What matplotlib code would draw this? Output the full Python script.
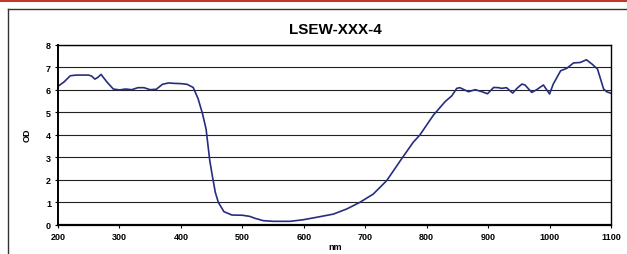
import matplotlib
matplotlib.use("Agg")
import matplotlib.pyplot as plt
from matplotlib.lines import Line2D

plt.rcParams['font.family'] = ['Liberation Sans', 'DejaVu Sans']

wavelength = [200, 210, 220, 230, 250, 255, 260, 265, 270, 280, 290, 300, 310, 320, 330, 340, 350, 360,
              370, 380, 390, 400, 410, 420, 428, 435, 441, 447, 451, 456, 461, 470, 483, 500, 512, 521, 534,
              550, 578, 599, 621, 648, 670, 691, 713, 735, 757, 778, 789, 811, 830, 841, 849, 854, 868, 879,
              890, 899, 909, 917, 922, 930, 940, 947, 955, 960, 971, 979, 990, 1000, 1006, 1018, 1028, 1039,
              1050, 1060, 1069, 1078, 1088, 1093, 1100]
od = [6.15, 6.35, 6.62, 6.65, 6.65, 6.6, 6.47, 6.55, 6.68, 6.33, 6.03, 5.99, 6.03, 6.0, 6.09, 6.09, 6.0, 6.02,
      6.24, 6.3, 6.28, 6.27, 6.24, 6.1, 5.6, 4.95, 4.25, 2.85, 2.2, 1.44, 0.99, 0.58, 0.43, 0.42, 0.37, 0.28, 0.18,
      0.15, 0.15, 0.22, 0.33, 0.47, 0.70, 0.99, 1.36, 1.96, 2.84, 3.66, 3.99, 4.87, 5.47, 5.73, 6.06, 6.09, 5.91, 6.0,
      5.91, 5.82, 6.1, 6.09, 6.06, 6.09, 5.85, 6.06, 6.25, 6.21, 5.88, 6.0, 6.21, 5.81, 6.25, 6.84, 6.95, 7.19,
      7.21, 7.33, 7.14, 6.92, 6.03, 5.91, 5.84]

x_ticks = [200, 300, 400, 500, 600, 700, 800, 900, 1000, 1100]
y_ticks = [0, 1, 2, 3, 4, 5, 6, 7, 8]

W, H = 627, 255
fig = plt.figure(figsize=(W / 100, H / 100), dpi=100)

# red bar on top
fig.add_artist(plt.Rectangle((0, 1 - 3 / H), 1, 3 / H, transform=fig.transFigure,
                             color='#c0392b', lw=0))
# frame lines
fig.add_artist(Line2D([8 / W, 1], [1 - 10 / H, 1 - 10 / H], transform=fig.transFigure,
                      color='#333333', lw=1.0))
fig.add_artist(Line2D([8 / W, 8 / W], [0, 1 - 10 / H], transform=fig.transFigure,
                      color='#333333', lw=1.0))

left, right, top, bottom = 58, 611, 45.7, 225.7
ax = fig.add_axes([left / W, 1 - bottom / H, (right - left) / W, (bottom - top) / H])
ax.plot(wavelength, od, color='#262d80', lw=1.2)
ax.set_xlim(200, 1100)
ax.set_ylim(0, 8)
ax.set_xticks(x_ticks)
ax.set_yticks(y_ticks)
ax.tick_params(labelsize=6.5, length=2, width=0.8, pad=3)
for lab in ax.get_xticklabels() + ax.get_yticklabels():
    lab.set_fontweight('bold')
ax.yaxis.grid(True, color='#222222', lw=0.8)
ax.set_axisbelow(True)
ax.spines['left'].set_linewidth(1.4)
ax.spines['bottom'].set_linewidth(1.6)
ax.spines['top'].set_linewidth(1.0)
ax.spines['right'].set_linewidth(1.0)

fig.text(335 / W, 1 - 30 / H, 'LSEW-XXX-4', ha='center', va='center', fontsize=11, fontweight='bold')
fig.text(335 / W, 1 - 248 / H, 'nm', ha='center', va='center', fontsize=6.5, fontweight='bold')
fig.text(27 / W, 1 - 135 / H, 'OD', ha='center', va='center', fontsize=6.5, fontweight='bold', rotation=90)

fig.savefig('out.png', dpi=100)
